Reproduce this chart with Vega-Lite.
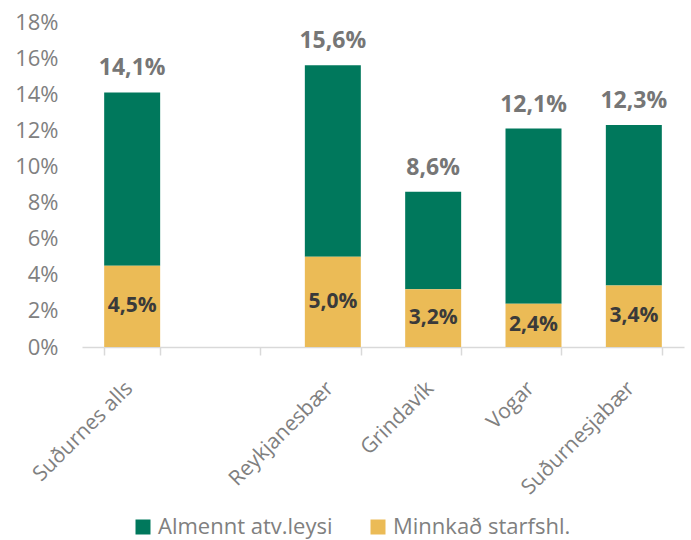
{
  "$schema": "https://vega.github.io/schema/vega-lite/v6.json",
  "width": 602,
  "height": 325,
  "autosize": {"type": "none"},
  "padding": {"left": 82, "top": 22, "right": 7, "bottom": 193},
  "config": {
    "font": "Open Sans",
    "view": {"stroke": null},
    "axisY": {"labelOverlap": false, "grid": false, "domain": false, "ticks": false, "labelPadding": 24, "labelFontSize": 22, "labelColor": "#808080", "format": ".0%"},
    "locale": {"number": {"decimal": ",", "thousands": ".", "grouping": [3], "currency": ["", " kr"]}}
  },
  "data": {
    "values": [
      {"svaedi": "Suðurnes alls", "flokkur": "Almennt atv.leysi", "gildi": 0.096},
      {"svaedi": "Suðurnes alls", "flokkur": "Minnkað starfshl.", "gildi": 0.045},
      {"svaedi": "Reykjanesbær", "flokkur": "Almennt atv.leysi", "gildi": 0.106},
      {"svaedi": "Reykjanesbær", "flokkur": "Minnkað starfshl.", "gildi": 0.050},
      {"svaedi": "Grindavík", "flokkur": "Almennt atv.leysi", "gildi": 0.054},
      {"svaedi": "Grindavík", "flokkur": "Minnkað starfshl.", "gildi": 0.032},
      {"svaedi": "Vogar", "flokkur": "Almennt atv.leysi", "gildi": 0.097},
      {"svaedi": "Vogar", "flokkur": "Minnkað starfshl.", "gildi": 0.024},
      {"svaedi": "Suðurnesjabær", "flokkur": "Almennt atv.leysi", "gildi": 0.089},
      {"svaedi": "Suðurnesjabær", "flokkur": "Minnkað starfshl.", "gildi": 0.034}
    ]
  },
  "encoding": {
    "x": {
      "field": "svaedi",
      "type": "nominal",
      "title": null,
      "scale": {"domain": ["Suðurnes alls", " ", "Reykjanesbær", "Grindavík", "Vogar", "Suðurnesjabær"], "paddingInner": 0.442, "paddingOuter": 0.221},
      "axis": {
        "labelAngle": -45,
        "labelAlign": "right",
        "labelBaseline": "middle",
        "labelPadding": 30,
        "labelOffset": -3,
        "labelFontSize": 21,
        "labelColor": "#808080",
        "labelLimit": 300,
        "labelOverlap": false,
        "domainColor": "#d9d9d9",
        "domainWidth": 1.5,
        "tickColor": "#d9d9d9",
        "tickWidth": 1.5,
        "tickSize": 8,
        "tickBand": "extent"
      }
    }
  },
  "layer": [
    {
      "mark": {"type": "bar", "stroke": null},
      "encoding": {
        "y": {
          "field": "gildi",
          "type": "quantitative",
          "aggregate": "sum",
          "stack": "zero",
          "title": null,
          "scale": {"domain": [0, 0.18]},
          "axis": {
            "values": [0, 0.02, 0.04, 0.06, 0.08, 0.1, 0.12, 0.14, 0.16, 0.18],
            "labelOverlap": false
          }
        },
        "color": {
          "field": "flokkur",
          "type": "nominal",
          "title": null,
          "scale": {"domain": ["Almennt atv.leysi", "Minnkað starfshl."], "range": ["#00785c", "#ebbb56"]},
          "legend": {
            "orient": "none",
            "legendX": 50,
            "legendY": 494,
            "direction": "horizontal",
            "symbolType": "square",
            "symbolSize": 225,
            "symbolStrokeWidth": 0,
            "labelFontSize": 22,
            "labelLimit": 300,
            "labelColor": "#808080",
            "labelOffset": 4,
            "columnPadding": 34
          }
        },
        "order": {"field": "flokkur", "sort": "descending"}
      }
    },
    {
      "mark": {"type": "text", "baseline": "alphabetic", "dy": -17, "fontSize": 23, "fontWeight": "bold", "color": "#767676"},
      "encoding": {
        "y": {"field": "gildi", "type": "quantitative", "aggregate": "sum", "axis": {"values": [0, 0.02, 0.04, 0.06, 0.08, 0.1, 0.12, 0.14, 0.16, 0.18], "labelOverlap": false}},
        "text": {"field": "gildi", "type": "quantitative", "aggregate": "sum", "format": ".1%"}
      }
    },
    {
      "transform": [
        {"filter": "datum.flokkur === 'Minnkað starfshl.'"},
        {"calculate": "datum.gildi / 2", "as": "midja"}
      ],
      "mark": {"type": "text", "baseline": "middle", "fontSize": 21, "fontWeight": "bold", "color": "#3a3a3a"},
      "encoding": {
        "y": {"field": "midja", "type": "quantitative", "axis": {"values": [0, 0.02, 0.04, 0.06, 0.08, 0.1, 0.12, 0.14, 0.16, 0.18], "labelOverlap": false}},
        "text": {"field": "gildi", "type": "quantitative", "format": ".1%"}
      }
    }
  ]
}
